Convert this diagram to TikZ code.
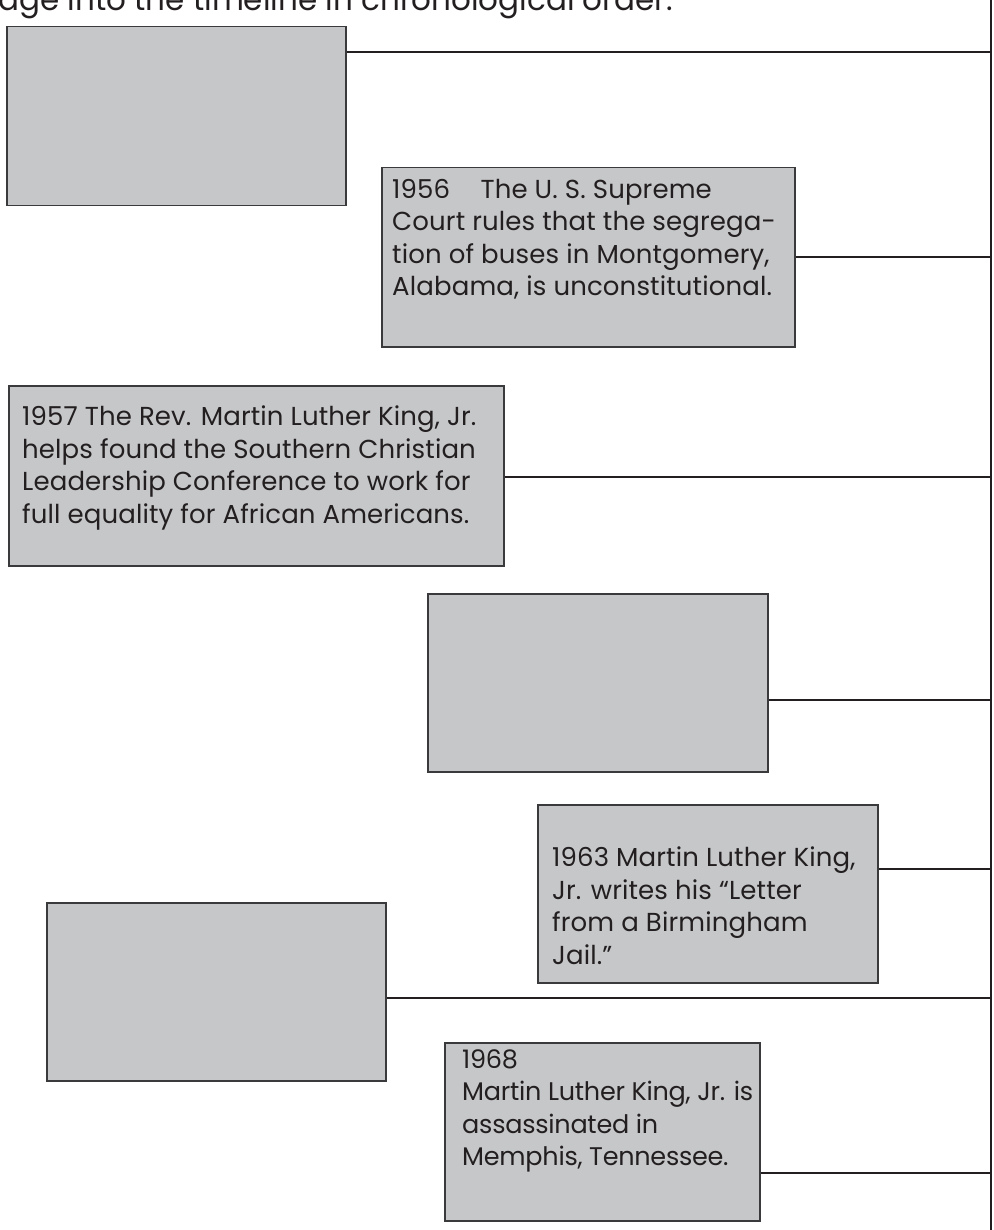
\documentclass[tikz,border=0pt]{standalone}
\usepackage{fontspec}
\setmainfont{Poppins}
\newfontfamily\evfont{Poppins}[LetterSpace=0.5]
\newfontfamily\evtight{Poppins}[LetterSpace=-1]
\definecolor{boxfill}{HTML}{C6C7C9}
\definecolor{boxline}{HTML}{3A3A3C}
\definecolor{linecol}{HTML}{231F20}
\tikzset{
  evbox/.style={draw=boxline, line width=1.5pt, fill=boxfill, anchor=north west, inner sep=0pt},
  evtext/.style={anchor=north west, align=left, inner sep=0pt, text=linecol,
    font=\evfont\fontsize{26pt}{32.5pt}\selectfont},
  evtexttight/.style={evtext, font=\evtight\fontsize{25.5pt}{32.5pt}\selectfont},
  link/.style={draw=linecol, line width=2.7pt},
  axis/.style={draw=linecol, line width=2pt}
}
\begin{document}
\begin{tikzpicture}[x=1pt,y=-1pt]
\useasboundingbox (0,0) rectangle (993,1230);
\begin{scope}
\clip (0,0) rectangle (993,1230);
\node[anchor=base west, inner sep=0pt, text=linecol, font=\fontsize{31pt}{34pt}\selectfont] (head) at (-2,11) {age into the timeline in chronological order.};
% timeline
\coordinate (ttop) at (991,-5);
\coordinate (tbot) at (991,1235);
\draw[axis] (ttop) -- (tbot);
% connector points on timeline
\coordinate (c1) at (991,52);
\coordinate (c2) at (991,257);
\coordinate (c3) at (991,477);
\coordinate (c4) at (991,700);
\coordinate (c5) at (991,869);
\coordinate (c6) at (991,998);
\coordinate (c7) at (991,1173);
% boxes
\node[evbox, minimum width=339pt, minimum height=179pt] (b1) at (6,26) {};
\node[evbox, minimum width=413pt, minimum height=179pt] (b2) at (381,167) {};
\node[evbox, minimum width=495pt, minimum height=180pt] (b3) at (8,385) {};
\node[evbox, minimum width=340pt, minimum height=178pt] (b4) at (427,593) {};
\node[evbox, minimum width=340pt, minimum height=178pt] (b5) at (537,804) {};
\node[evbox, minimum width=339pt, minimum height=178pt] (b6) at (46,902) {};
\node[evbox, minimum width=315pt, minimum height=178pt] (b7) at (444,1042) {};
% connectors
\draw[link] (b1.east |- c1) -- (c1);
\draw[link] (b2.east |- c2) -- (c2);
\draw[link] (b3.east |- c3) -- (c3);
\draw[link] (b4.east |- c4) -- (c4);
\draw[link] (b5.east |- c5) -- (c5);
\draw[link] (b6.east |- c6) -- (c6);
\draw[link] (b7.east |- c7) -- (c7);
% texts
\node[evtext] (t2) at (392,179) {1956\hspace{0.9em} The U. S. Supreme\\Court rules that the segrega-\\tion of buses in Montgomery,\\Alabama, is unconstitutional.};
\node[evtext] (t3) at (22,406) {1957 The Rev. Martin Luther King, Jr.\\helps found the Southern Christian\\Leadership Conference to work for\\full equality for African Americans.};
\node[evtext] (t5) at (552,847) {1963 Martin Luther King,\\Jr. writes his “Letter\\from a Birmingham\\Jail.”};
\node[evtexttight] (t7) at (462,1049) {1968\\Martin Luther King, Jr. is\\assassinated in\\Memphis, Tennessee.};
\end{scope}
\end{tikzpicture}
\end{document}
